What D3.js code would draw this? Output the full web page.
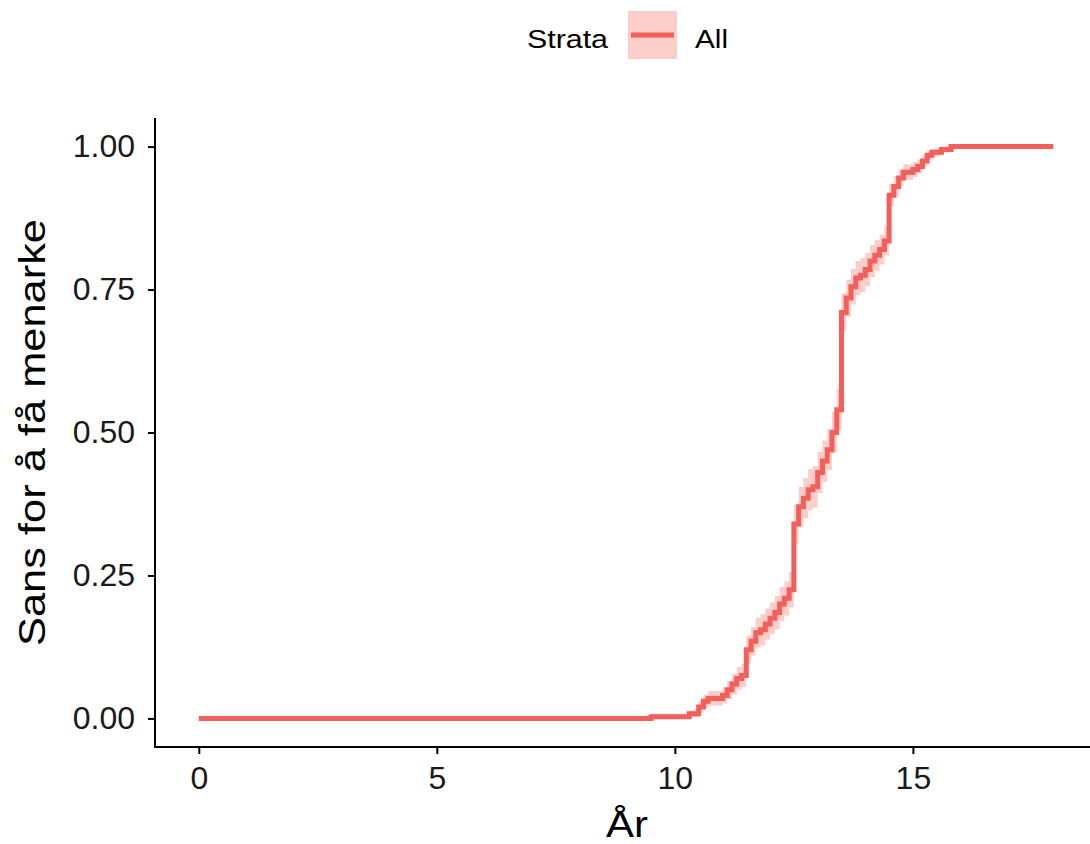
<!DOCTYPE html>
<html>
<head>
<meta charset="utf-8">
<script src="https://cdn.jsdelivr.net/npm/d3@7"></script>
<style>
  body { margin: 0; background: #fff; }
  text { font-family: "Liberation Sans", Arial, sans-serif; }
</style>
</head>
<body>
<svg id="chart"></svg>
<script>
// step curve: time (years) and cumulative probability of menarche
const times = [0, 9.5, 10.3, 10.5, 10.6, 10.7, 11.0, 11.1, 11.2, 11.3, 11.4, 11.5, 11.6, 11.7, 11.8, 11.9,
    12.0, 12.1, 12.2, 12.3, 12.4, 12.5, 12.6, 12.7, 12.8, 12.9, 13.0, 13.1, 13.2, 13.3, 13.4,
    13.5, 13.6, 13.7, 13.8, 13.9, 14.0, 14.1, 14.2, 14.3, 14.4, 14.5, 14.6, 14.7, 14.8, 14.9,
    15.0, 15.1, 15.2, 15.3, 15.4, 15.6, 15.8, 17.95];
const estimate = [0, 0.003, 0.008, 0.02, 0.03, 0.035, 0.04, 0.05, 0.06, 0.07, 0.075, 0.12, 0.135, 0.15, 0.155, 0.165,
    0.175, 0.185, 0.20, 0.21, 0.225, 0.34, 0.37, 0.385, 0.40, 0.405, 0.43, 0.45, 0.47, 0.50, 0.54,
    0.71, 0.735, 0.755, 0.77, 0.775, 0.785, 0.80, 0.81, 0.82, 0.835, 0.915, 0.93, 0.945, 0.955, 0.955,
    0.96, 0.965, 0.975, 0.985, 0.99, 0.995, 1.0, 1.0];
const lower = [0, 0, 0.002, 0.01, 0.018, 0.022, 0.026, 0.034, 0.042, 0.05, 0.055, 0.096, 0.11, 0.124, 0.128, 0.138,
    0.147, 0.156, 0.17, 0.18, 0.194, 0.306, 0.335, 0.35, 0.364, 0.369, 0.394, 0.414, 0.434, 0.464, 0.504,
    0.677, 0.703, 0.724, 0.74, 0.745, 0.756, 0.772, 0.783, 0.794, 0.81, 0.896, 0.912, 0.93, 0.941, 0.941,
    0.947, 0.953, 0.965, 0.977, 0.984, 0.99, 1.0, 1.0];
const upper = [0, 0.008, 0.014, 0.03, 0.042, 0.048, 0.054, 0.066, 0.078, 0.09, 0.095, 0.144, 0.16, 0.176, 0.182, 0.192,
    0.203, 0.214, 0.23, 0.24, 0.256, 0.374, 0.405, 0.42, 0.436, 0.441, 0.466, 0.486, 0.506, 0.536, 0.576,
    0.743, 0.767, 0.786, 0.80, 0.805, 0.814, 0.828, 0.837, 0.846, 0.86, 0.934, 0.948, 0.96, 0.969, 0.969,
    0.973, 0.977, 0.985, 0.993, 0.996, 1.0, 1.0, 1.0];

const xTicks = [0, 5, 10, 15];
const yTicks = [0, 0.25, 0.5, 0.75, 1];
const strataName = "All";
const lineColor = "#F35F5B";
const bandColor = "#F8766D";

const width = 1090, height = 844;
const margin = { top: 118, right: 0, bottom: 97, left: 155 };

const svg = d3.select("#chart")
    .attr("width", width)
    .attr("height", height);

const data = times.map((t, i) => ({ t: t, est: estimate[i], lo: lower[i], hi: upper[i] }));

const xScale = d3.scaleLinear()
    .domain([-0.92, 18.72])
    .range([margin.left, width - margin.right]);

const yScale = d3.scaleLinear()
    .domain([-0.05, 1.05])
    .range([height - margin.bottom, margin.top]);

// confidence band
svg.append("path")
    .datum(data)
    .attr("fill", bandColor)
    .attr("fill-opacity", 0.36)
    .attr("d", d3.area()
        .curve(d3.curveStepAfter)
        .x(d => xScale(d.t))
        .y0(d => yScale(d.lo))
        .y1(d => yScale(d.hi)));

// cumulative event line
svg.append("path")
    .datum(data)
    .attr("fill", "none")
    .attr("stroke", lineColor)
    .attr("stroke-width", 5)
    .attr("d", d3.line()
        .curve(d3.curveStepAfter)
        .x(d => xScale(d.t))
        .y(d => yScale(d.est)));

// axes
const xAxis = svg.append("g")
    .attr("transform", "translate(0," + (height - margin.bottom) + ")")
    .call(d3.axisBottom(xScale).tickValues(xTicks).tickSize(7).tickPadding(12).tickSizeOuter(0));

const yAxis = svg.append("g")
    .attr("transform", "translate(" + margin.left + ",0)")
    .call(d3.axisLeft(yScale).tickValues(yTicks).tickFormat(d3.format(".2f")).tickSize(7).tickPadding(13).tickSizeOuter(0));

[xAxis, yAxis].forEach(ax => {
    ax.select(".domain").attr("stroke", "#000").attr("stroke-width", 2);
    ax.selectAll(".tick line").attr("stroke", "#000").attr("stroke-width", 2);
    ax.selectAll(".tick text")
        .attr("fill", "#1a1a1a")
        .style("font-size", "32px")
        .style("font-family", "'Liberation Sans', Arial, sans-serif");
});
// extend axis lines to the corner
xAxis.select(".domain").attr("d", "M" + (margin.left - 1) + ",0H" + (width - margin.right));
yAxis.select(".domain").attr("d", "M0," + margin.top + "V" + (height - margin.bottom + 1));

// axis titles
svg.append("text")
    .attr("x", 627)
    .attr("y", 837)
    .attr("text-anchor", "middle")
    .attr("textLength", 42)
    .attr("lengthAdjust", "spacingAndGlyphs")
    .style("font-size", "37px")
    .text("År");

svg.append("text")
    .attr("transform", "translate(45," + ((margin.top + height - margin.bottom) / 2) + ") rotate(-90)")
    .attr("text-anchor", "middle")
    .attr("textLength", 427)
    .attr("lengthAdjust", "spacingAndGlyphs")
    .style("font-size", "37px")
    .text("Sans for å få menarke");

// legend
const legend = svg.append("g");
legend.append("text")
    .attr("x", 527)
    .attr("y", 48)
    .attr("textLength", 81)
    .attr("lengthAdjust", "spacingAndGlyphs")
    .style("font-size", "25px")
    .text("Strata");
legend.append("rect")
    .attr("x", 628).attr("y", 11)
    .attr("width", 49).attr("height", 48)
    .attr("fill", bandColor).attr("fill-opacity", 0.36);
legend.append("line")
    .attr("x1", 631).attr("x2", 674)
    .attr("y1", 35).attr("y2", 35)
    .attr("stroke", lineColor).attr("stroke-width", 5);
legend.append("text")
    .attr("x", 695)
    .attr("y", 48)
    .attr("textLength", 33)
    .attr("lengthAdjust", "spacingAndGlyphs")
    .style("font-size", "25px")
    .text(strataName);
</script>
</body>
</html>
